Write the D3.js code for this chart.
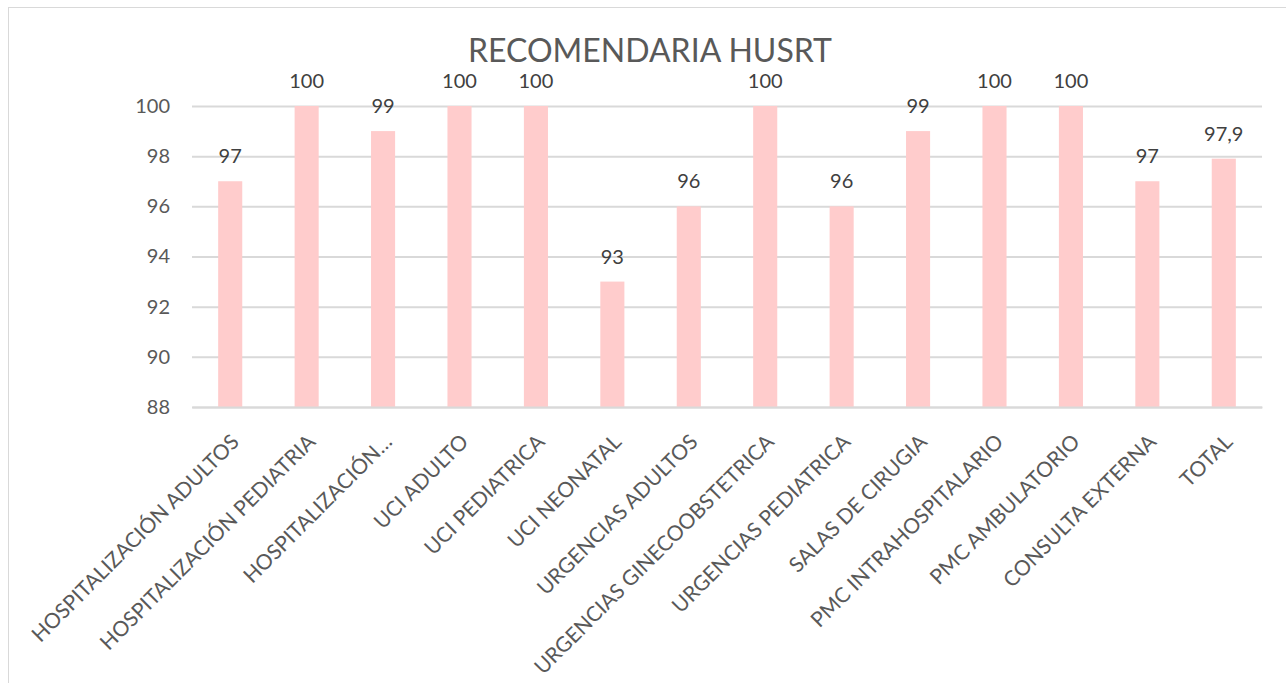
<!DOCTYPE html>
<html>
<head>
<meta charset="utf-8">
<script src="https://cdn.jsdelivr.net/npm/d3@7"></script>
<style>
html,body{margin:0;padding:0;background:#fff;}
svg{display:block;font-family:Lato,"Open Sans",sans-serif;}
</style>
</head>
<body>
<svg id="chart" width="1286" height="683"></svg>
<script>
const categories = ["HOSPITALIZACIÓN ADULTOS","HOSPITALIZACIÓN PEDIATRIA","HOSPITALIZACIÓN…","UCI ADULTO","UCI PEDIATRICA","UCI NEONATAL","URGENCIAS ADULTOS","URGENCIAS GINECOOBSTETRICA","URGENCIAS PEDIATRICA","SALAS DE CIRUGIA","PMC INTRAHOSPITALARIO","PMC AMBULATORIO","CONSULTA EXTERNA","TOTAL"];
const values = [97,100,99,100,100,93,96,100,96,99,100,100,97,97.9];
const yTicks = [88,90,92,94,96,98,100];
const title = "RECOMENDARIA HUSRT";

const svg = d3.select("#chart");
const plot = {left:192, right:1262, top:106, bottom:407};

svg.append("rect").attr("x",8.5).attr("y",7.5).attr("width",1290).attr("height",700)
  .attr("fill","#fff").attr("stroke","#d9d9d9").attr("stroke-width",1);

const x = d3.scaleBand().domain(categories).range([plot.left, plot.right]).paddingInner(0.685).paddingOuter(0.3425);
const y = d3.scaleLinear().domain([88,100]).range([plot.bottom, plot.top]);

const loc = d3.formatLocale({decimal:",",thousands:".",grouping:[3],currency:["","€"]});
const fmt = v => Number.isInteger(v) ? String(v) : loc.format(".1f")(v);

// gridlines
const yAxis = d3.axisLeft(y).tickValues(yTicks).tickSize(-(plot.right-plot.left)).tickPadding(22).tickFormat(d3.format("d"));
const gy = svg.append("g").attr("transform",`translate(${plot.left},0)`).call(yAxis);
gy.select(".domain").remove();
gy.selectAll(".tick line").attr("stroke","#d9d9d9").attr("stroke-width",2);
gy.selectAll(".tick text").attr("fill","#595959").style("font-size","20px").style("font-family","Lato");

// bars
svg.append("g").selectAll("rect").data(values).join("rect")
  .attr("x",(d,i)=>x(categories[i]))
  .attr("width",x.bandwidth())
  .attr("y",d=>y(d))
  .attr("height",d=>y(88)-y(d))
  .attr("fill","#ffcccc");

// data labels
svg.append("g").selectAll("text").data(values).join("text")
  .attr("x",(d,i)=>x(categories[i])+x.bandwidth()/2)
  .attr("y",d=>y(d)-18)
  .attr("text-anchor","middle")
  .attr("fill","#404040")
  .style("font-size","20px")
  .text(d=>fmt(d));

// x axis (baseline)
const xAxis = d3.axisBottom(x).tickSize(0).tickPadding(0);
const gx = svg.append("g").attr("transform",`translate(0,${plot.bottom})`).call(xAxis);
gx.select(".domain").attr("stroke","#d9d9d9").attr("stroke-width",2);
gx.selectAll(".tick text")
  .attr("fill","#595959").style("font-size","21px").style("font-family","Lato")
  .attr("text-anchor","end")
  .attr("dy","0.35em")
  .attr("transform","translate(5,31) rotate(-45)");

// title
svg.append("text").attr("x",650).attr("y",62).attr("text-anchor","middle")
  .attr("fill","#595959").style("font-size","32px").text(title);
</script>
</body>
</html>
